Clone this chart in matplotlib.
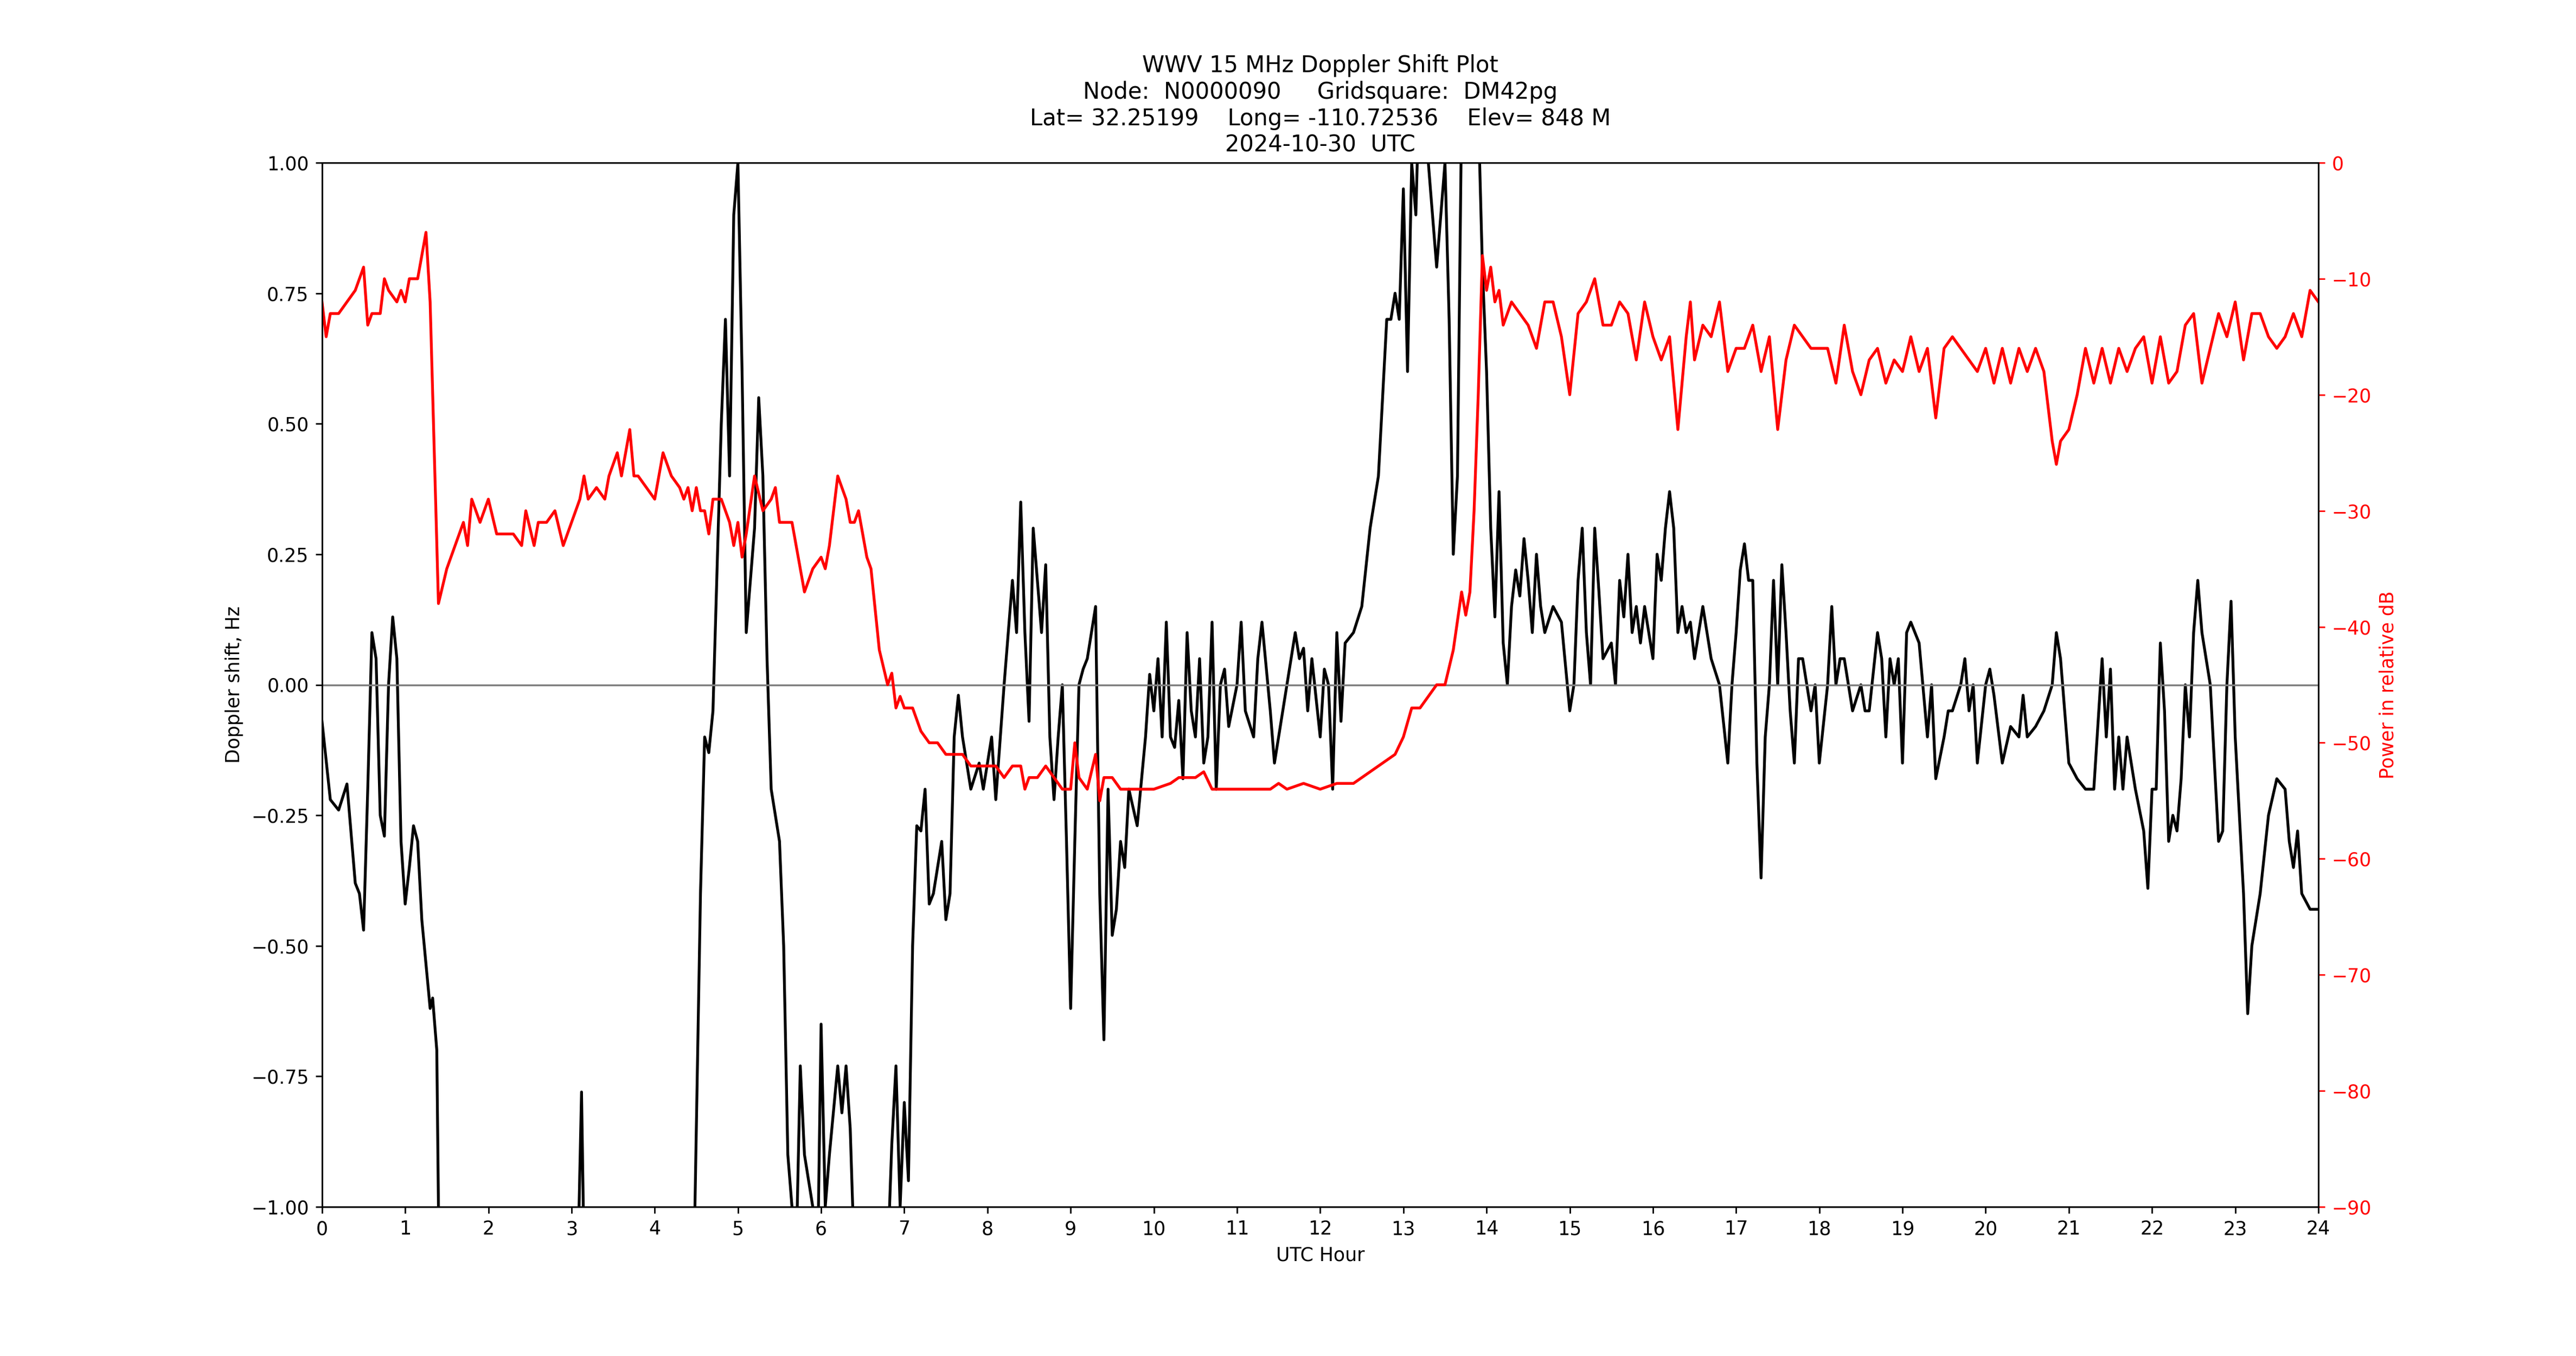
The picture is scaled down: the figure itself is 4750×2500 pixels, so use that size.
import numpy as np
import matplotlib
matplotlib.use('Agg')
import matplotlib.pyplot as plt

# (UTC hour, Doppler shift Hz); -1.3 means below the axis
doppler_points = [
    (0, -0.07), (0.1, -0.22), (0.2, -0.24), (0.3, -0.19), (0.4, -0.38), (0.45, -0.4), (0.5, -0.47),
    (0.55, -0.2), (0.6, 0.1), (0.65, 0.05), (0.7, -0.25), (0.75, -0.29), (0.8, 0.0), (0.85, 0.13),
    (0.9, 0.05), (0.95, -0.3), (1.0, -0.42), (1.05, -0.35), (1.1, -0.27), (1.15, -0.3), (1.2, -0.45),
    (1.3, -0.62), (1.33, -0.6), (1.38, -0.7), (1.42, -1.3), (3.05, -1.3), (3.12, -0.78), (3.17, -1.3),
    (4.45, -1.3), (4.55, -0.4), (4.6, -0.1), (4.65, -0.13), (4.7, -0.05), (4.8, 0.5), (4.85, 0.7),
    (4.9, 0.4), (4.95, 0.9), (5.0, 1.0), (5.05, 0.6), (5.1, 0.1), (5.2, 0.3), (5.25, 0.55), (5.3, 0.4),
    (5.35, 0.05), (5.4, -0.2), (5.5, -0.3), (5.55, -0.5), (5.6, -0.9), (5.7, -1.1), (5.75, -0.73),
    (5.8, -0.9), (5.9, -1.0), (5.95, -1.2), (6.0, -0.65), (6.05, -1.0), (6.1, -0.9), (6.2, -0.73),
    (6.25, -0.82), (6.3, -0.73), (6.35, -0.85), (6.4, -1.1), (6.8, -1.1), (6.85, -0.88), (6.9, -0.73),
    (6.95, -1.0), (7.0, -0.8), (7.05, -0.95), (7.1, -0.5), (7.15, -0.27), (7.2, -0.28), (7.25, -0.2),
    (7.3, -0.42), (7.35, -0.4), (7.4, -0.35), (7.45, -0.3), (7.5, -0.45), (7.55, -0.4), (7.6, -0.1),
    (7.65, -0.02), (7.7, -0.1), (7.8, -0.2), (7.9, -0.15), (7.95, -0.2), (8.05, -0.1), (8.1, -0.22),
    (8.2, 0.0), (8.3, 0.2), (8.35, 0.1), (8.4, 0.35), (8.45, 0.1), (8.5, -0.07), (8.55, 0.3),
    (8.6, 0.2), (8.65, 0.1), (8.7, 0.23), (8.75, -0.1), (8.8, -0.22), (8.85, -0.1), (8.9, 0.0),
    (8.95, -0.3), (9.0, -0.62), (9.05, -0.3), (9.1, 0.0), (9.15, 0.03), (9.2, 0.05), (9.3, 0.15),
    (9.35, -0.4), (9.4, -0.68), (9.45, -0.2), (9.5, -0.48), (9.55, -0.43), (9.6, -0.3), (9.65, -0.35),
    (9.7, -0.2), (9.8, -0.27), (9.9, -0.1), (9.95, 0.02), (10.0, -0.05), (10.05, 0.05), (10.1, -0.1),
    (10.15, 0.12), (10.2, -0.1), (10.25, -0.12), (10.3, -0.03), (10.35, -0.18), (10.4, 0.1),
    (10.45, -0.05), (10.5, -0.1), (10.55, 0.05), (10.6, -0.15), (10.65, -0.1), (10.7, 0.12),
    (10.75, -0.2), (10.8, 0.0), (10.85, 0.03), (10.9, -0.08), (11.0, 0.0), (11.05, 0.12), (11.1, -0.05),
    (11.2, -0.1), (11.25, 0.05), (11.3, 0.12), (11.4, -0.05), (11.45, -0.15), (11.5, -0.1), (11.6, 0.0),
    (11.7, 0.1), (11.75, 0.05), (11.8, 0.07), (11.85, -0.05), (11.9, 0.05), (12.0, -0.1), (12.05, 0.03),
    (12.1, 0.0), (12.15, -0.2), (12.2, 0.1), (12.25, -0.07), (12.3, 0.08), (12.4, 0.1), (12.5, 0.15),
    (12.6, 0.3), (12.7, 0.4), (12.8, 0.7), (12.85, 0.7), (12.9, 0.75), (12.95, 0.7), (13.0, 0.95),
    (13.05, 0.6), (13.1, 1.0), (13.15, 0.9), (13.2, 1.2), (13.3, 1.0), (13.4, 0.8), (13.5, 1.0),
    (13.55, 0.7), (13.6, 0.25), (13.65, 0.4), (13.7, 1.1), (13.9, 1.1), (13.95, 0.8), (14.0, 0.6),
    (14.05, 0.3), (14.1, 0.13), (14.15, 0.37), (14.2, 0.08), (14.25, 0.0), (14.3, 0.15), (14.35, 0.22),
    (14.4, 0.17), (14.45, 0.28), (14.5, 0.2), (14.55, 0.1), (14.6, 0.25), (14.65, 0.15), (14.7, 0.1),
    (14.8, 0.15), (14.9, 0.12), (15.0, -0.05), (15.05, 0.0), (15.1, 0.2), (15.15, 0.3), (15.2, 0.1),
    (15.25, 0.0), (15.3, 0.3), (15.35, 0.18), (15.4, 0.05), (15.5, 0.08), (15.55, 0.0), (15.6, 0.2),
    (15.65, 0.13), (15.7, 0.25), (15.75, 0.1), (15.8, 0.15), (15.85, 0.08), (15.9, 0.15), (16.0, 0.05),
    (16.05, 0.25), (16.1, 0.2), (16.15, 0.3), (16.2, 0.37), (16.25, 0.3), (16.3, 0.1), (16.35, 0.15),
    (16.4, 0.1), (16.45, 0.12), (16.5, 0.05), (16.6, 0.15), (16.65, 0.1), (16.7, 0.05), (16.8, 0.0),
    (16.9, -0.15), (16.95, 0.0), (17.0, 0.1), (17.05, 0.22), (17.1, 0.27), (17.15, 0.2), (17.2, 0.2),
    (17.25, -0.15), (17.3, -0.37), (17.35, -0.1), (17.4, 0.0), (17.45, 0.2), (17.5, 0.0), (17.55, 0.23),
    (17.6, 0.1), (17.65, -0.05), (17.7, -0.15), (17.75, 0.05), (17.8, 0.05), (17.85, 0.0), (17.9, -0.05),
    (17.95, 0.0), (18.0, -0.15), (18.1, 0.0), (18.15, 0.15), (18.2, 0.0), (18.25, 0.05), (18.3, 0.05),
    (18.35, 0.0), (18.4, -0.05), (18.5, 0.0), (18.55, -0.05), (18.6, -0.05), (18.7, 0.1), (18.75, 0.05),
    (18.8, -0.1), (18.85, 0.05), (18.9, 0.0), (18.95, 0.05), (19.0, -0.15), (19.05, 0.1), (19.1, 0.12),
    (19.2, 0.08), (19.3, -0.1), (19.35, 0.0), (19.4, -0.18), (19.5, -0.1), (19.55, -0.05), (19.6, -0.05),
    (19.7, 0.0), (19.75, 0.05), (19.8, -0.05), (19.85, 0.0), (19.9, -0.15), (20.0, 0.0), (20.05, 0.03),
    (20.1, -0.02), (20.2, -0.15), (20.3, -0.08), (20.4, -0.1), (20.45, -0.02), (20.5, -0.1), (20.6, -0.08),
    (20.7, -0.05), (20.8, 0.0), (20.85, 0.1), (20.9, 0.05), (21.0, -0.15), (21.1, -0.18), (21.2, -0.2),
    (21.3, -0.2), (21.4, 0.05), (21.45, -0.1), (21.5, 0.03), (21.55, -0.2), (21.6, -0.1), (21.65, -0.2),
    (21.7, -0.1), (21.8, -0.2), (21.9, -0.28), (21.95, -0.39), (22.0, -0.2), (22.05, -0.2), (22.1, 0.08),
    (22.15, -0.05), (22.2, -0.3), (22.25, -0.25), (22.3, -0.28), (22.35, -0.18), (22.4, 0.0),
    (22.45, -0.1), (22.5, 0.1), (22.55, 0.2), (22.6, 0.1), (22.7, 0.0), (22.8, -0.3), (22.85, -0.28),
    (22.9, 0.0), (22.95, 0.16), (23.0, -0.1), (23.1, -0.4), (23.15, -0.63), (23.2, -0.5), (23.3, -0.4),
    (23.4, -0.25), (23.5, -0.18), (23.6, -0.2), (23.65, -0.3), (23.7, -0.35), (23.75, -0.28),
    (23.8, -0.4), (23.9, -0.43), (24.0, -0.43),
]

# (UTC hour, power dB)
power_points = [
    (0, -12), (0.05, -15), (0.1, -13), (0.2, -13), (0.3, -12), (0.4, -11), (0.5, -9), (0.55, -14),
    (0.6, -13), (0.7, -13), (0.75, -10), (0.8, -11), (0.9, -12), (0.95, -11), (1.0, -12), (1.05, -10),
    (1.15, -10), (1.25, -6), (1.3, -12), (1.35, -25), (1.4, -38), (1.5, -35), (1.6, -33), (1.7, -31),
    (1.75, -33), (1.8, -29), (1.9, -31), (2.0, -29), (2.1, -32), (2.2, -32), (2.3, -32), (2.4, -33),
    (2.45, -30), (2.55, -33), (2.6, -31), (2.7, -31), (2.8, -30), (2.9, -33), (3.0, -31), (3.1, -29),
    (3.15, -27), (3.2, -29), (3.3, -28), (3.4, -29), (3.45, -27), (3.5, -26), (3.55, -25), (3.6, -27),
    (3.7, -23), (3.75, -27), (3.8, -27), (3.9, -28), (4.0, -29), (4.1, -25), (4.2, -27), (4.3, -28),
    (4.35, -29), (4.4, -28), (4.45, -30), (4.5, -28), (4.55, -30), (4.6, -30), (4.65, -32), (4.7, -29),
    (4.8, -29), (4.9, -31), (4.95, -33), (5.0, -31), (5.05, -34), (5.1, -32), (5.2, -27), (5.3, -30),
    (5.4, -29), (5.45, -28), (5.5, -31), (5.55, -31), (5.65, -31), (5.7, -33), (5.8, -37), (5.9, -35),
    (6.0, -34), (6.05, -35), (6.1, -33), (6.2, -27), (6.3, -29), (6.35, -31), (6.4, -31), (6.45, -30),
    (6.5, -32), (6.55, -34), (6.6, -35), (6.7, -42), (6.8, -45), (6.85, -44), (6.9, -47), (6.95, -46),
    (7.0, -47), (7.1, -47), (7.2, -49), (7.3, -50), (7.4, -50), (7.5, -51), (7.6, -51), (7.7, -51),
    (7.8, -52), (7.9, -52), (8.0, -52), (8.1, -52), (8.2, -53), (8.3, -52), (8.4, -52), (8.45, -54),
    (8.5, -53), (8.6, -53), (8.7, -52), (8.8, -53), (8.9, -54), (9.0, -54), (9.05, -50), (9.1, -53),
    (9.2, -54), (9.3, -51), (9.35, -55), (9.4, -53), (9.5, -53), (9.6, -54), (9.7, -54), (9.8, -54),
    (10.0, -54), (10.2, -53.5), (10.3, -53), (10.5, -53), (10.6, -52.5), (10.7, -54), (10.8, -54),
    (11.0, -54), (11.2, -54), (11.4, -54), (11.5, -53.5), (11.6, -54), (11.8, -53.5), (12.0, -54),
    (12.2, -53.5), (12.4, -53.5), (12.6, -52.5), (12.8, -51.5), (12.9, -51), (13.0, -49.5), (13.1, -47),
    (13.2, -47), (13.3, -46), (13.4, -45), (13.5, -45), (13.6, -42), (13.7, -37), (13.75, -39),
    (13.8, -37), (13.85, -30), (13.9, -20), (13.95, -8), (14.0, -11), (14.05, -9), (14.1, -12),
    (14.15, -11), (14.2, -14), (14.3, -12), (14.4, -13), (14.5, -14), (14.6, -16), (14.7, -12),
    (14.8, -12), (14.9, -15), (15.0, -20), (15.1, -13), (15.2, -12), (15.3, -10), (15.4, -14),
    (15.5, -14), (15.6, -12), (15.7, -13), (15.8, -17), (15.9, -12), (16.0, -15), (16.1, -17),
    (16.2, -15), (16.3, -23), (16.4, -15), (16.45, -12), (16.5, -17), (16.6, -14), (16.7, -15),
    (16.8, -12), (16.9, -18), (17.0, -16), (17.1, -16), (17.2, -14), (17.3, -18), (17.4, -15),
    (17.5, -23), (17.6, -17), (17.7, -14), (17.8, -15), (17.9, -16), (18.0, -16), (18.1, -16),
    (18.2, -19), (18.3, -14), (18.4, -18), (18.5, -20), (18.6, -17), (18.7, -16), (18.8, -19),
    (18.9, -17), (19.0, -18), (19.1, -15), (19.2, -18), (19.3, -16), (19.4, -22), (19.5, -16),
    (19.6, -15), (19.7, -16), (19.8, -17), (19.9, -18), (20.0, -16), (20.1, -19), (20.2, -16),
    (20.3, -19), (20.4, -16), (20.5, -18), (20.6, -16), (20.7, -18), (20.8, -24), (20.85, -26),
    (20.9, -24), (21.0, -23), (21.1, -20), (21.2, -16), (21.3, -19), (21.4, -16), (21.5, -19),
    (21.6, -16), (21.7, -18), (21.8, -16), (21.9, -15), (22.0, -19), (22.1, -15), (22.2, -19),
    (22.3, -18), (22.4, -14), (22.5, -13), (22.6, -19), (22.7, -16), (22.8, -13), (22.9, -15),
    (23.0, -12), (23.1, -17), (23.2, -13), (23.3, -13), (23.4, -15), (23.5, -16), (23.6, -15),
    (23.7, -13), (23.8, -15), (23.9, -11), (24.0, -12),
]

hour_ticks = list(range(0, 25))
title_text = ('WWV 15 MHz Doppler Shift Plot\n'
              'Node:  N0000090     Gridsquare:  DM42pg\n'
              'Lat= 32.25199    Long= -110.72536    Elev= 848 M\n'
              '2024-10-30  UTC')

d = np.array(doppler_points)
p = np.array(power_points)

fig, ax = plt.subplots(figsize=(19, 10), dpi=250)

ax.plot(d[:, 0], d[:, 1], color='black', linewidth=1.5)
ax.axhline(0, color='grey', linewidth=1)
ax.set_xlim(0, 24)
ax.set_ylim(-1, 1)
ax.set_xticks(hour_ticks)
ax.set_xlabel('UTC Hour')
ax.set_ylabel('Doppler shift, Hz')
ax.set_title(title_text)

ax2 = ax.twinx()
ax2.plot(p[:, 0], p[:, 1], color='red', linewidth=1.5)
ax2.set_ylim(-90, 0)
ax2.set_ylabel('Power in relative dB', color='red')
ax2.tick_params(axis='y', colors='red')

fig.savefig('out.png')
